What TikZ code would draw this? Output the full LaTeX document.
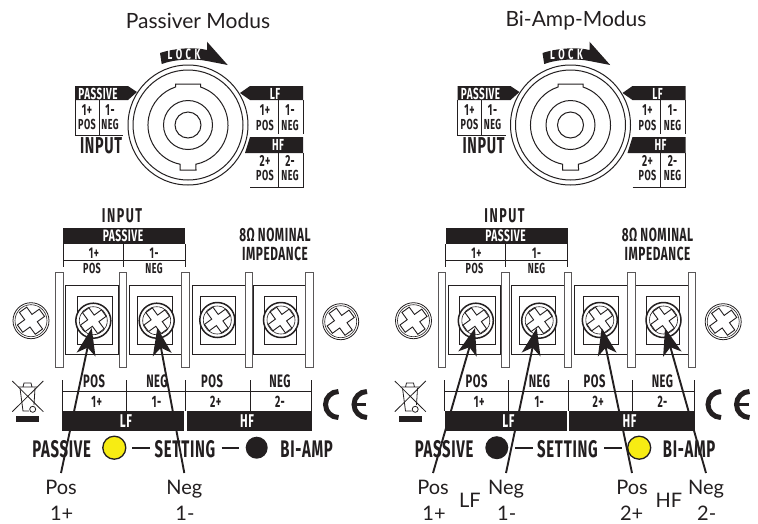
\documentclass[tikz,border=0pt]{standalone}
\usepackage{fontspec}
\setmainfont{Lato}
\newfontfamily\din[FakeStretch=0.62,LetterSpace=3]{Fira Sans}
\usetikzlibrary{arrows.meta}
\definecolor{inkblack}{HTML}{231F20}
\definecolor{lampyellow}{HTML}{F7EC13}
\tikzset{
    din/.style={font=\din\fontsize{#1}{#1}\selectfont\bfseries, inner sep=0pt, text=inkblack},
    dinw/.style={din=#1, text=white},
    lbl/.style={font=\fontsize{20}{20}\selectfont, text=inkblack, text height=14pt, text depth=4pt, inner sep=3pt, outer sep=4pt},
    ink/.style={draw=inkblack, line width=1pt},
    barbox/.style={draw=inkblack!75, line width=0.9pt, fill=white},
    pointer/.style={draw=inkblack, line width=1.9pt, -{Stealth[length=27pt,width=19pt,inset=7pt]}}
}
% plus shaped slot
\newcommand{\slotcross}[2]{
    \draw[ink, fill=white, line width=0.9pt, rotate=36] (-#2,-#1)--(#2,-#1)--(#2,-#2)--(#1,-#2)--(#1,#2)--(#2,#2)--(#2,#1)--(-#2,#1)--(-#2,#2)--(-#1,#2)--(-#1,-#2)--(-#2,-#2)--cycle;
}
\newcommand{\termscrew}[2]{
    \begin{scope}[shift={(#1,#2)}]
        \draw[ink, fill=white, line width=1.5pt] (0,0) circle [radius=17.5];
        \draw[ink, line width=0.6pt] (0,0) circle [radius=14];
        \slotcross{13}{4}
    \end{scope}
}
\newcommand{\sidescrew}[2]{
    \begin{scope}[shift={(#1,#2)}]
        \draw[ink, line width=0.8pt] (0,0) circle [radius=18];
        \draw[ink, line width=0.6pt] (0,0) circle [radius=16];
        \slotcross{13.5}{4.5}
    \end{scope}
}
% everything both panels share
\newcommand{\speakerpanel}{
    % lock arrow
    \fill[inkblack] (160,53) .. controls (175,48) and (195,47) .. (207,50) -- (207,41.7) -- (227.7,65) -- (207,61) .. controls (195,58.5) and (175,59) .. (161.7,64) -- cycle;
    \node[dinw=15] (lock) at (184,54.5) {L\kern3.5pt O\kern3.5pt C\kern3.5pt K};
    % speakon socket
    \draw[ink] (188,125) circle [radius=60];
    \draw[ink] (188,125) circle [radius=55];
    \draw[ink] (175.5,87) -- (175.5,84) -- (200.5,84) -- (200.5,87) arc [start angle=-71.8, delta angle=150.3, radius=40] -- (196,170) -- (180,170) -- (180,164.2) arc [start angle=101.5, delta angle=150.3, radius=40] -- cycle;
    \draw[ink] (188,125) circle [radius=24.5];
    \draw[ink] (188,125) circle [radius=13];
    % socket labels
    \fill[inkblack] (75,86) -- (128,86) -- (137,92) -- (128,100) -- (75,100) -- cycle;
    \node[dinw=16] (passtop) at (98,93.5) {PASSIVE};
    \draw[ink] (75,100) -- (75,135) -- (123,135) (99,100) -- (99,135);
    \node[din=16] (inA) at (87,110) {1+};
    \node[din=14.5] (inApos) at (87,124.5) {POS};
    \node[din=16] (inB) at (110,110) {1-};
    \node[din=14.5] (inBneg) at (110,124.5) {NEG};
    \node[din=23] (inputtop) at (101,146) {INPUT};
    \fill[inkblack] (240,93) -- (250,86) -- (303,86) -- (303,100) -- (250,100) -- cycle;
    \node[dinw=16] (lftop) at (275,93.5) {LF};
    \draw[ink] (303,100) -- (303,134) (278,100) -- (278,134);
    \node[din=16] (lfA) at (265,110) {1+};
    \node[din=14.5] (lfApos) at (265,125) {POS};
    \node[din=16] (lfB) at (290,110) {1-};
    \node[din=14.5] (lfBneg) at (290,125) {NEG};
    \fill[inkblack] (250,137) -- (303,137) -- (303,153) -- (245,153) -- cycle;
    \node[dinw=16] (hftop) at (278,145) {HF};
    \draw[ink] (250,187) -- (303,187) -- (303,153) (278,153) -- (278,187);
    \node[din=16] (hfA) at (265,160.5) {2+};
    \node[din=14.5] (hfApos) at (265,175.5) {POS};
    \node[din=16] (hfB) at (290,160.5) {2-};
    \node[din=14.5] (hfBneg) at (290,175.5) {NEG};
    % upper terminal labels
    \node[din=20] (input) at (122,216) {I\kern1.5pt N\kern1.5pt P\kern1.5pt U\kern1.5pt T};
    \fill[inkblack] (63,228) rectangle (185,244);
    \node[dinw=16.5] (pass) at (123,236) {PASSIVE};
    \draw[ink] (63,244) -- (63,266.5) (123,244) -- (123,266.5) (185,244) -- (185,266.5) (63,260) -- (185,260);
    \node[din=15.5] (upA) at (94,253) {1+};
    \node[din=15.5] (upB) at (154,253) {1-};
    \node[din=14.5] (uppos) at (92,268) {POS};
    \node[din=14.5] (upneg) at (154,268) {NEG};
    \node[din=19] (ohm) at (275,235) {8Ω\,NOMINAL};
    \node[din=19] (imp) at (275,254) {IMPEDANCE};
    % terminal block
    \foreach \x in {65.7,129,192.3,253}
        \draw[ink] (\x,285) rectangle ++(52.7,69);
    \foreach \x/\w in {77.3/35.4,137.3/35.4,200.7/35,264/32.7}
        \draw[ink] (\x,296.7) rectangle ++(\w,47.3);
    \foreach \x in {55.7,119,181.7,245,305.7}
        \draw[barbox] (\x,272) rectangle ++(7.6,95);
    \termscrew{93.3}{320.7}
    \termscrew{156.7}{320.7}
    \termscrew{217.3}{320}
    \termscrew{281}{320}
    \sidescrew{31}{320.7}
    \sidescrew{340.7}{321.7}
    % lower terminal labels
    \node[din=18] (loAp) at (94,381.7) {POS};
    \node[din=18] (loAn) at (157,381.7) {NEG};
    \node[din=18] (loBp) at (212,381.7) {POS};
    \node[din=18] (loBn) at (280,381.7) {NEG};
    \foreach \x in {62.3,126,185.7,250,311.7}
        \draw[ink] (\x,380) -- (\x,411);
    \draw[ink] (62.3,391.7) -- (311.7,391.7);
    \node[din=16.5] (loA) at (96.7,401.7) {1+};
    \node[din=16.5] (loB) at (156.7,401.7) {1-};
    \node[din=16.5] (loC) at (215.7,401.7) {2+};
    \node[din=16.5] (loD) at (280,401.7) {2-};
    \fill[inkblack] (62.3,410.7) rectangle (184.3,431);
    \fill[inkblack] (186.7,410.7) rectangle (312.3,431);
    \node[dinw=18.5] (lobandA) at (126,421.5) {LF};
    \node[dinw=18.5] (lobandB) at (247,421.5) {HF};
    % setting row
    \node[din=24] (passive) at (61.7,449) {PASSIVE};
    \draw[inkblack, line width=2pt] (132.3,447.5) -- (150,447.5);
    \node[din=24] (setting) at (185,449) {SETTING};
    \draw[inkblack, line width=2pt] (221.7,447.5) -- (239.3,447.5);
    \node[din=24] (biamp) at (306.7,449) {BI-AMP};
    % weee bin
    \fill[inkblack] (16,416) rectangle (39,421.7);
    \draw[ink, line width=0.8pt] (12.3,381) -- (43.3,411.7) (43.3,381) -- (12.3,411.7);
    \draw[ink, line width=0.8pt] (18,387) -- (37,387) (23,387) -- (24,383) -- (31,383) -- (32,387);
    \draw[ink, line width=0.8pt] (20,388) -- (23,411) -- (29,411) (35,388) -- (34,405);
    \draw[ink, line width=0.8pt] (32.7,409.3) circle [radius=3];
    % ce mark
    \draw[inkblack, line width=5pt] (338.5,391.5) arc [start angle=-90, delta angle=-180, radius=13];
    \draw[inkblack, line width=5pt] (367,391.5) arc [start angle=-90, delta angle=-180, radius=13];
    \draw[inkblack, line width=3.5pt] (354,404.5) -- (366,404.5);
}
\begin{document}
\begin{tikzpicture}[x=1pt,y=-1pt]
    \useasboundingbox (0,0) rectangle (758,523);
    \fill[white] (0,0) rectangle (758,523);

    \node[font=\fontsize{21}{21}\selectfont, text=inkblack] (titleL) at (198,21) {Passiver Modus};
    \node[font=\fontsize{21}{21}\selectfont, text=inkblack] (titleR) at (576,21) {Bi-Amp-Modus};

    \begin{scope}[name prefix=l-]
        \speakerpanel
        \draw[inkblack, line width=1.3pt, fill=lampyellow] (114.3,447.7) circle [radius=11.5];
        \fill[inkblack] (256.7,447.7) circle [radius=11];
        \coordinate (tipA) at (91.7,328);
        \coordinate (tipB) at (157.3,328);
        \node[lbl] (posA) at (61,489) {Pos};
        \node[lbl] (digA) at (61.7,515) {1+};
        \node[lbl] (negA) at (184.3,489) {Neg};
        \node[lbl] (digB) at (185,515) {1-};
        \draw[pointer] (posA.north) -- (tipA);
        \draw[pointer] (negA.north) -- (tipB);
    \end{scope}

    \begin{scope}[shift={(382.5,0)}, name prefix=r-]
        \speakerpanel
        \fill[inkblack] (114.3,447.7) circle [radius=11.5];
        \draw[inkblack, line width=1.3pt, fill=lampyellow] (256.7,447.7) circle [radius=11.5];
        \coordinate (tipA) at (92.5,328);
        \coordinate (tipB) at (154.2,328);
        \coordinate (tipC) at (219.2,328);
        \coordinate (tipD) at (282.5,328);
        \node[lbl] (posA) at (50.5,489) {Pos};
        \node[lbl] (digA) at (51.5,515) {1+};
        \node[lbl] (lfnote) at (87.5,502) {LF};
        \node[lbl] (negA) at (123.5,489) {Neg};
        \node[lbl] (digB) at (124.2,515) {1-};
        \node[lbl] (posB) at (249.5,489) {Pos};
        \node[lbl] (digC) at (249.2,515) {2+};
        \node[lbl] (hfnote) at (286.5,502) {HF};
        \node[lbl] (negB) at (323.5,489) {Neg};
        \node[lbl] (digD) at (324.2,515) {2-};
        \draw[pointer] (posA.north) -- (tipA);
        \draw[pointer] (negA.north) -- (tipB);
        \draw[pointer] (posB.north) -- (tipC);
        \draw[pointer] (negB.north) -- (tipD);
    \end{scope}
\end{tikzpicture}
\end{document}
